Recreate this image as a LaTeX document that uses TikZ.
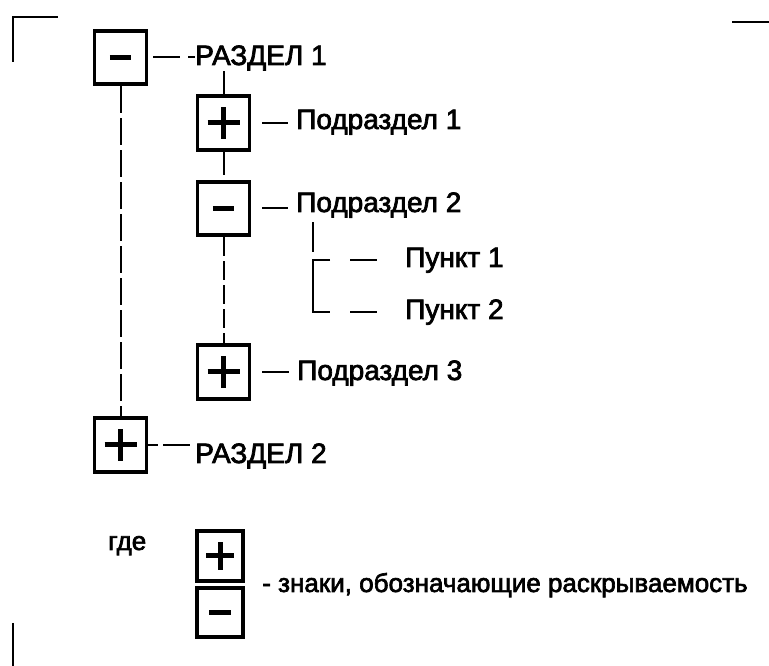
\documentclass[tikz,border=0pt]{standalone}
\usepackage{fontspec}
\setmainfont{Liberation Sans}
\newfontfamily\scanfont{Liberation Sans}[FakeBold=2.5]
\usetikzlibrary{positioning}

\begin{document}
\begin{tikzpicture}[x=0.75pt, y=-0.75pt,
  conn/.style={line width=1.5pt},
  signbox/.style={draw, line width=2.8pt, minimum width=39pt, minimum height=40pt, inner sep=0},
  plusbox/.style={signbox, path picture={
      \draw[line width=3.75pt] (path picture bounding box.center) +(-#1,0) -- +(#1,0)
        (path picture bounding box.center) +(0,-#1) -- +(0,#1);}},
  plusbox/.default=12pt,
  minusbox/.style={signbox, path picture={
      \draw[line width=3.75pt] (path picture bounding box.center) +(-#1,0) -- +(#1,0);}},
  minusbox/.default=8pt,
  lbl/.style={font=\scanfont\fontsize{21}{25}\selectfont, inner sep=0, anchor=base west},
  note/.style={lbl, font=\scanfont\fontsize{19.5}{23}\selectfont}]

  \useasboundingbox (0,0) rectangle (769,666);

  % Corner marks
  \draw[line width=2pt] (13,62) -- (13,17) -- (58,17);
  \draw[line width=2pt] (732,22) -- (769,22);
  \draw[line width=2pt] (13,623) -- (13,666);

  % Sections
  \node[minusbox] (r1) at (120.5,57.5) {};
  \node[lbl] (t1) at (195,65) {РАЗДЕЛ 1};
  \node[plusbox] (r2) at (120.5,445) {};
  \node[lbl] (t2) at (195,463) {РАЗДЕЛ 2};

  % Subsections
  \node[plusbox] (p1) at (223.5,123) {};
  \node[lbl] (lp1) at (296,129) {Подраздел 1};
  \node[minusbox] (p2) at (223.5,208.5) {};
  \node[lbl] (lp2) at (296,212) {Подраздел 2};
  \node[plusbox] (p3) at (223.5,372) {};
  \node[lbl] (lp3) at (297,380) {Подраздел 3};

  % Items
  \node[lbl] (pk1) at (405,267) {Пункт 1};
  \node[lbl] (pk2) at (405,319) {Пункт 2};

  % Links
  \draw[conn, dash pattern=on 20pt off 4pt] (r1.south) -- (r2.north);
  \draw[conn, shorten <=3.75pt, dash pattern=on 20.25pt off 6pt] (r1.east) -- (r1.east -| t1.west);
  \draw[conn, dash pattern=on 7.5pt off 3.75pt on 20.25pt off 10pt] (r2.east) -- ([xshift=-3.75pt]r2.east -| t2.west);
  \draw[conn] (p1.north) -- (p1.north |- t1.south);
  \draw[conn, shorten >=3.75pt] (p1.south) -- (p2.north);
  \draw[conn, dash pattern=on 14pt off 4pt] (p2.south) -- (p3.north);
  \foreach \b/\t in {p1/lp1, p2/lp2, p3/lp3}
    \draw[conn, shorten <=8.25pt, shorten >=6pt] (\b.east) -- (\b.east -| \t.west);

  % Item tree
  \coordinate (fork) at (313,252);
  \draw[conn, shorten <=3pt] (lp2.south -| fork) -- (fork);
  \draw[conn] ([shift={(-75,0)}]pk1.west) -| ([shift={(-92,0)}]pk2.west) -- ([shift={(-75,0)}]pk2.west);
  \foreach \k in {pk1, pk2}
    \draw[conn] ([shift={(-55,0)}]\k.west) -- ([shift={(-28,0)}]\k.west);

  % Legend
  \node[note] (gde) at (108,550) {где};
  \node[plusbox=10.5pt, minimum width=35pt, minimum height=37pt] (lplus) at (220,556) {};
  \node[minusbox, minimum width=35pt, minimum height=37pt] (lminus) at (220,612.5) {};
  \node[note] (txt) at (262,592) {- знаки, обозначающие раскрываемость};

\end{tikzpicture}
\end{document}
